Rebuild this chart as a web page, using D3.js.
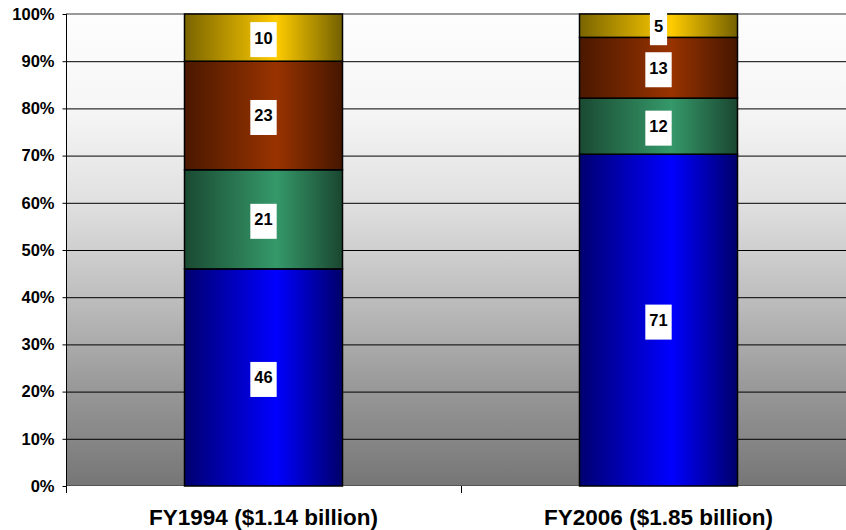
<!DOCTYPE html>
<html><head><meta charset="utf-8">
<script src="https://cdn.jsdelivr.net/npm/d3@7"></script>
<style>html,body{margin:0;padding:0;background:#fff;overflow:hidden}svg{display:block;font-family:"Liberation Sans",Arial,sans-serif}</style>
</head><body>
<svg id="c" width="846" height="530"></svg>
<script>
const categories = ["FY1994 ($1.14 billion)", "FY2006 ($1.85 billion)"];
const seriesNames = ["blue", "green", "brown", "yellow"];
const blueVals = [46, 71];
const greenVals = [21, 12];
const brownVals = [23, 13];
const yellowVals = [10, 5];
const yTicks = [0, 0.1, 0.2, 0.3, 0.4, 0.5, 0.6, 0.7, 0.8, 0.9, 1.0];

const colors = {
  blue:   ["#000070", "#0000ff", "#00006a"],
  green:  ["#1a4a32", "#35996a", "#1a4630"],
  brown:  ["#4a1800", "#993300", "#451600"],
  yellow: ["#7a6400", "#ffcc00", "#736000"]
};

const table = categories.map((c, i) => ({
  cat: c, blue: blueVals[i], green: greenVals[i], brown: brownVals[i], yellow: yellowVals[i]
}));

const svg = d3.select("#c");
const m = {left: 66, top: 14, right: -10, bottom: 44};
const W = 846, H = 530;
const x = d3.scaleBand().domain(categories).range([m.left, W - m.right]).paddingInner(0).paddingOuter(0);
const y = d3.scaleLinear().domain([0, 1]).range([H - m.bottom, m.top]);

const defs = svg.append("defs");
const bg = defs.append("linearGradient").attr("id", "bg").attr("x1", 0).attr("y1", 0).attr("x2", 0).attr("y2", 1);
[[0, "#fdfdfd"], [0.2, "#f6f6f6"], [0.4, "#e0e0e0"], [0.6, "#bebebe"], [0.8, "#979797"], [1, "#767676"]]
  .forEach(([o, c]) => bg.append("stop").attr("offset", o).attr("stop-color", c));
seriesNames.forEach(s => {
  const g = defs.append("linearGradient").attr("id", "g-" + s).attr("x1", 0).attr("y1", 0).attr("x2", 1).attr("y2", 0);
  g.append("stop").attr("offset", 0).attr("stop-color", colors[s][0]);
  g.append("stop").attr("offset", 0.58).attr("stop-color", colors[s][1]);
  g.append("stop").attr("offset", 1).attr("stop-color", colors[s][2]);
});

// plot background
svg.append("rect").attr("x", m.left).attr("y", y(1)).attr("width", W - m.left + 20).attr("height", y(0) - y(1))
  .attr("fill", "url(#bg)");

// gridlines
svg.append("g").selectAll("line").data(yTicks.filter(t => t > 0 && t < 1)).join("line")
  .attr("x1", m.left).attr("x2", W + 20).attr("y1", d => y(d) + 0.5).attr("y2", d => y(d) + 0.5)
  .attr("stroke", "#000").attr("stroke-width", 1);
svg.append("line").attr("x1", m.left).attr("x2", W + 20).attr("y1", y(1)).attr("y2", y(1))
  .attr("stroke", "#999").attr("stroke-width", 2);
svg.append("line").attr("x1", m.left).attr("x2", W + 20).attr("y1", y(0) - 0.5).attr("y2", y(0) - 0.5)
  .attr("stroke", "#555").attr("stroke-width", 1);

// stacks
const stack = d3.stack().keys(seriesNames).offset(d3.stackOffsetExpand);
const layers = stack(table);
const bw = x.bandwidth() * 0.4;
const gBars = svg.append("g");
layers.forEach(layer => {
  gBars.selectAll(null).data(layer).join("rect")
    .attr("x", d => x(d.data.cat) + (x.bandwidth() - bw) / 2)
    .attr("y", d => y(d[1]))
    .attr("width", bw)
    .attr("height", d => y(d[0]) - y(d[1]))
    .attr("fill", "url(#g-" + layer.key + ")")
    .attr("stroke", "#000").attr("stroke-width", 1.5);
});

// labels
const gLab = svg.append("g");
layers.forEach(layer => {
  layer.forEach(d => {
    const cx = x(d.data.cat) + x.bandwidth() / 2;
    const cy = (y(d[0]) + y(d[1])) / 2;
    const t = String(d.data[layer.key]);
    const g = gLab.append("g");
    const txt = g.append("text").attr("x", cx).attr("y", cy).attr("text-anchor", "middle")
      .attr("dominant-baseline", "central").attr("font-weight", "bold").attr("font-size", 16.5).attr("fill", "#000").text(t);
    const w = txt.node().getComputedTextLength() + 8;
    g.insert("rect", "text").attr("x", cx - w / 2).attr("y", cy + 2 - 17.5).attr("width", w).attr("height", 35).attr("fill", "#fff");
  });
});

// y axis
const yAxis = d3.axisLeft(y).tickValues(yTicks).tickFormat(d3.format(".0%")).tickSize(4).tickPadding(8);
const ga = svg.append("g").attr("transform", `translate(${m.left + 0.5},0)`).call(yAxis);
ga.select(".domain").attr("stroke", "#000").attr("d", `M0,${y(1)}V${y(0) + 6}`);
ga.selectAll(".tick line").attr("stroke", "#000");
ga.selectAll(".tick text").attr("font-size", 16.5).attr("font-weight", "bold").attr("fill", "#000")
  .attr("font-family", "Liberation Sans, Arial, sans-serif").attr("x", -12);

// x axis
const gx = svg.append("g").attr("transform", `translate(0,${y(0)})`);
gx.selectAll("line").data(categories).join("line")
  .attr("x1", d => x(d) + 0.5).attr("x2", d => x(d) + 0.5).attr("y1", 0).attr("y2", 7).attr("stroke", "#000");
gx.selectAll("text").data(categories).join("text")
  .attr("x", d => x(d) + x.bandwidth() / 2).attr("y", 39).attr("text-anchor", "middle")
  .attr("font-weight", "bold").attr("font-size", 22.5).attr("fill", "#000").text(d => d);
</script>
</body></html>
